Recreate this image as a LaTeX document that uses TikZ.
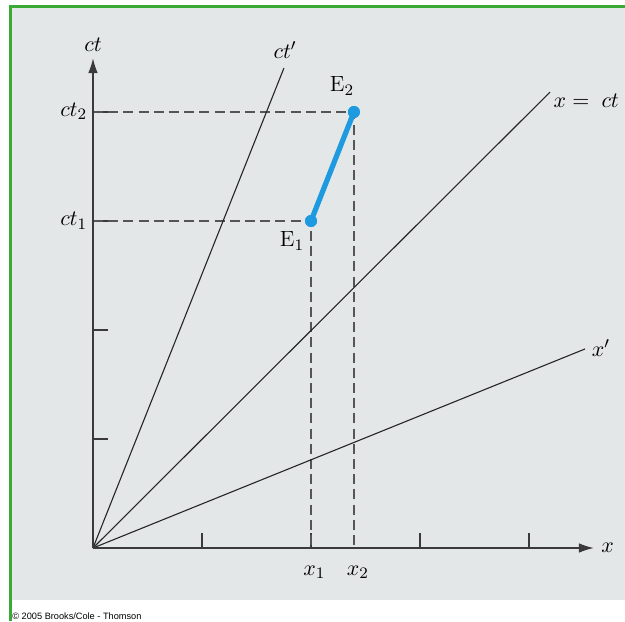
\documentclass[tikz,border=0pt]{standalone}
\usepackage{fontspec}
\newfontfamily\copyfont{Liberation Sans}
\usetikzlibrary{arrows.meta}
\definecolor{bggray}{HTML}{E4E7E7}
\definecolor{framegreen}{HTML}{3AAA35}
\definecolor{evblue}{HTML}{1E9AE0}
\definecolor{axisgray}{HTML}{3A3A3A}
\definecolor{dashgray}{HTML}{555555}
\begin{document}
\begin{tikzpicture}[x=54.5pt,y=54.5pt,
  font=\fontsize{11}{13}\selectfont,
  axisline/.style={draw=axisgray,line width=0.8pt},
  axisarrow/.style={axisline,-{Latex[length=7.5pt,width=4.8pt]}},
  tickline/.style={draw=axisgray,line width=0.8pt},
  worldline/.style={draw=black!85,line width=0.55pt},
  guide/.style={draw=dashgray,line width=0.6pt,dash pattern=on 5pt off 2.6pt},
  evseg/.style={draw=evblue,line width=2.6pt},
  evdot/.style={circle,fill=evblue,inner sep=0pt,minimum size=6pt},
  lab/.style={inner sep=0pt}]
\useasboundingbox (-0.8532,-0.6697) rectangle (4.8807,5.0275);
\fill[white] (-0.8532,-0.6697) rectangle (4.8807,5.0275);
\fill[bggray] (-0.743,-0.477) rectangle (4.8807,4.954);
\draw[framegreen,line width=1.5pt] (-0.757,-0.6697) -- (-0.757,4.968) -- (4.8807,4.968);
\node[lab,anchor=west,font=\copyfont\fontsize{4.6}{5}\selectfont] (copy) at (-0.743,-0.624) {© 2005 Brooks/Cole - Thomson};

% coordinates
\coordinate (O) at (0,0);
\coordinate (ctend) at (0,4.495);
\coordinate (xend) at (4.596,0);
\coordinate (ctp) at (1.752,4.404);
\coordinate (lc) at (4.193,4.183);
\coordinate (xp) at (4.514,1.826);
\coordinate (ct1) at (0,3);
\coordinate (ct2) at (0,4);
\coordinate (x1) at (2,0);
\coordinate (x2) at (2.394,0);
\node[evdot] (E1) at (2,3) {};
\node[evdot] (E2) at (2.394,4) {};

% ticks
\foreach \i in {1,2,3,4}{
  \draw[tickline] (\i,0) -- (\i,0.14);
  \draw[tickline] (0,\i) -- (0.14,\i);
}

% dashed guides
\draw[guide] (ct1) -- (E1.center) -- (x1);
\draw[guide] (ct2) -- (E2.center) -- (x2);

% world lines
\draw[worldline] (O) -- (ctp);
\draw[worldline] (O) -- (lc);
\draw[worldline] (O) -- (xp);

% axes
\draw[axisarrow] (O) -- (ctend);
\draw[axisarrow] (O) -- (xend);

% event segment
\draw[evseg] (E1.center) -- (E2.center);
\node[evdot] at (E1) {};
\node[evdot] at (E2) {};

% labels
\node[lab,anchor=south] (ctlab) at ([yshift=3pt]ctend) {$ct$};
\node[lab,anchor=west] (xlab) at ([xshift=3.5pt]xend) {$x$};
\node[lab,anchor=south] (ctplab) at ([shift={(0.01,0.08)}]ctp) {$ct'$};
\node[lab,anchor=west] (lclab) at ([shift={(0.03,-0.08)}]lc) {$x = \;ct$};
\node[lab,anchor=west] (xplab) at ([shift={(0.06,0.01)}]xp) {$x'$};
\node[lab,anchor=base east] (ct1lab) at (-0.05,2.955) {$ct_1$};
\node[lab,anchor=base east] (ct2lab) at (-0.05,3.957) {$ct_2$};
\node[lab,anchor=base] (x1lab) at (2.03,-0.25) {$x_1$};
\node[lab,anchor=base] (x2lab) at (2.43,-0.25) {$x_2$};
\node[lab] (E1lab) at (1.826,2.817) {$\mathrm{E}_1$};
\node[lab] (E2lab) at (2.284,4.239) {$\mathrm{E}_2$};
\end{tikzpicture}
\end{document}
